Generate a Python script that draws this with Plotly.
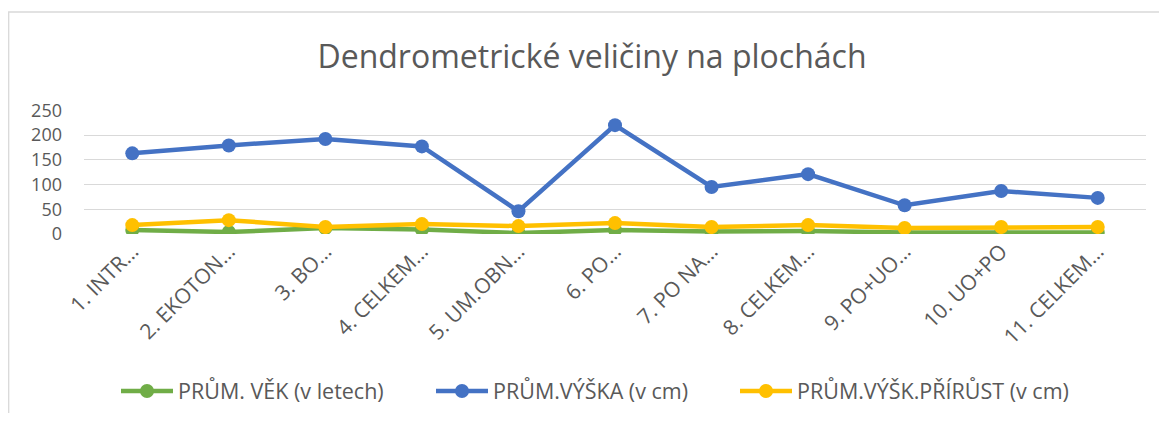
import plotly.graph_objects as go

categories = ["1. INTR…", "2. EKOTON…", "3. BO…", "4. CELKEM…", "5. UM.OBN…",
              "6. PO…", "7. PO NA…", "8. CELKEM…", "9. PO+UO…", "10. UO+PO", "11. CELKEM…"]
vek = [8, 4, 12, 9, 2, 8, 5, 6, 3, 4, 3]
vyska = [163, 179, 192, 177, 46, 220, 95, 121, 58, 87, 73]
prirust = [18, 28, 14, 20, 16, 22, 14, 18, 12, 14, 14]

y_ticks = [0, 50, 100, 150, 200, 250]

series = [
    ("PRŮM. VĚK (v letech)", vek, "#70AD47"),
    ("PRŮM.VÝŠKA (v cm)", vyska, "#4472C4"),
    ("PRŮM.VÝŠK.PŘÍRŮST (v cm)", prirust, "#FFC000"),
]

FONT = "Open Sans"
GRAY = "#595959"

# page has an 8px body margin; figure pixel = page pixel - 8
W, H = 1151, 405
L, T = 76, 102
PW, PH = 1062, 124
R = W - L - PW
B = H - T - PH
plot_bottom = T + PH

legend_ids = ["legend", "legend2", "legend3"]
legend_left_page = [116, 431, 735]

fig = go.Figure()
for (name, vals, col), lid in zip(series, legend_ids):
    fig.add_trace(go.Scatter(
        x=categories, y=vals, name=name, mode="lines+markers",
        line=dict(color=col, width=4.5),
        marker=dict(color=col, size=14),
        legend=lid,
    ))

layout_legends = {}
for lid, xl in zip(legend_ids, legend_left_page):
    layout_legends[lid] = dict(
        orientation="h", x=(xl - 8 - L) / PW, xanchor="left",
        y=-(383 - plot_bottom) / PH, yanchor="middle",
        font=dict(family=FONT, size=21.5, color=GRAY),
        itemwidth=52, bgcolor="rgba(0,0,0,0)",
    )

fig.update_layout(
    width=W, height=H,
    margin=dict(l=L, r=R, t=T, b=B, pad=0, autoexpand=False),
    paper_bgcolor="white", plot_bgcolor="white",
    font=dict(family=FONT, color=GRAY),
    title=dict(text="Dendrometrické veličiny na plochách", x=(592 - 8) / W, xanchor="center",
               y=1 - 49 / H, yanchor="middle",
               font=dict(family=FONT, size=32, color=GRAY)),
    xaxis=dict(type="category", range=[-0.5, len(categories) - 0.5],
               showgrid=False, zeroline=False, showline=False, ticks="",
               tickangle=-45, tickfont=dict(family=FONT, size=21, color=GRAY)),
    yaxis=dict(range=[0, 250.6], tickvals=y_ticks, showgrid=True, gridcolor="#D9D9D9",
               gridwidth=1.3, zeroline=False, showline=False, ticks="",
               ticklabelstandoff=21, tickfont=dict(family=FONT, size=18, color=GRAY)),
    showlegend=True,
    **layout_legends,
)

fig.add_shape(type="rect", xref="paper", yref="paper",
              x0=(0.7 - L) / PW, x1=(W + 20 - L) / PW,
              y0=-(H + 20 - plot_bottom) / PH, y1=(plot_bottom - 4) / PH,
              line=dict(color="#D9D9D9", width=1.3), fillcolor="rgba(0,0,0,0)", layer="below")

fig.write_html("out.html")
